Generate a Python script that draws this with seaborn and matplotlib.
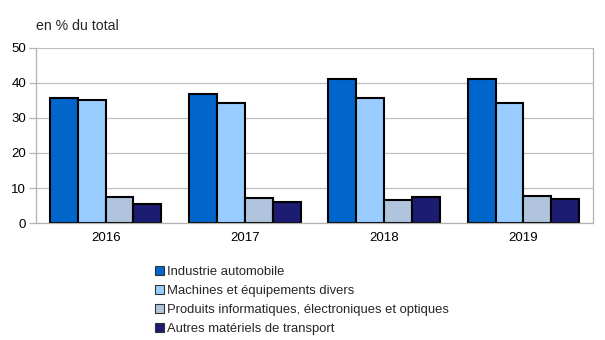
import matplotlib
matplotlib.use("Agg")
import matplotlib.pyplot as plt
import seaborn as sns
import pandas as pd
from matplotlib.patches import Patch

years = ["2016", "2017", "2018", "2019"]
series = ["Industrie automobile", "Machines et équipements divers",
          "Produits informatiques, électroniques et optiques",
          "Autres matériels de transport"]
auto = [35.7, 36.8, 41.1, 41.1]
machines = [35.0, 34.3, 35.7, 34.3]
produits = [7.5, 7.3, 6.7, 7.9]
autres = [5.4, 6.2, 7.4, 6.8]
colors = ["#0066cc", "#99ccff", "#b0c4de", "#1c1c72"]
yticks = [0, 10, 20, 30, 40, 50]

rows = []
for s, vals in zip(series, [auto, machines, produits, autres]):
    for y, v in zip(years, vals):
        rows.append({"year": y, "series": s, "value": v})
df = pd.DataFrame(rows)

sns.set_theme(style="white")
plt.rcParams['font.family'] = ['Liberation Sans', 'DejaVu Sans']

fig = plt.figure(figsize=(6.05, 3.4), dpi=100)
ax = fig.add_axes([36/605, 1-223.3/340, (593-36)/605, (223.3-47.5)/340])

sns.barplot(data=df, x="year", y="value", hue="series", palette=colors,
            hue_order=series, order=years, width=0.8, ax=ax,
            edgecolor="black", linewidth=1.5, saturation=1, legend=False,
            errorbar=None)

ax.set_ylim(0, 50)
ax.set_xlim(-0.5, len(years) - 0.5)
ax.set_yticks(yticks)
ax.set_yticklabels([str(t) for t in yticks], fontsize=9.5, color="#000000")
ax.yaxis.grid(True, color="#c0c0c0", linewidth=0.9)
ax.set_axisbelow(True)
ax.set_xlabel("")
ax.set_ylabel("")
ax.tick_params(axis="x", which="major", length=0, labelsize=9.5, pad=6, labelcolor="#000000")
ax.set_xticks([i - 0.5 for i in range(len(years) + 1)], minor=True)
ax.tick_params(axis="x", which="minor", length=5, color="#b3b3b3", width=0.9)
ax.tick_params(axis="y", length=5, color="#b3b3b3", width=0.9, pad=2, left=True)
for side in ["left", "right", "bottom"]:
    ax.spines[side].set_visible(True)
    ax.spines[side].set_color("#b3b3b3")
    ax.spines[side].set_linewidth(0.9)
ax.spines["top"].set_visible(False)

fig.text(36/605, 1-26/340, "en % du total", fontsize=10.2, va="center", ha="left")

handles = [Patch(facecolor=c, edgecolor="#333333", linewidth=0.8) for c in colors]
leg = fig.legend(handles, series, loc="upper left", bbox_to_anchor=(155/605, 1-266/340),
                 frameon=False, fontsize=9.4, handlelength=0.7, handleheight=0.7,
                 handletextpad=0.25, labelspacing=0.53, borderpad=0, borderaxespad=0)

fig.savefig("out.png", dpi=100)
